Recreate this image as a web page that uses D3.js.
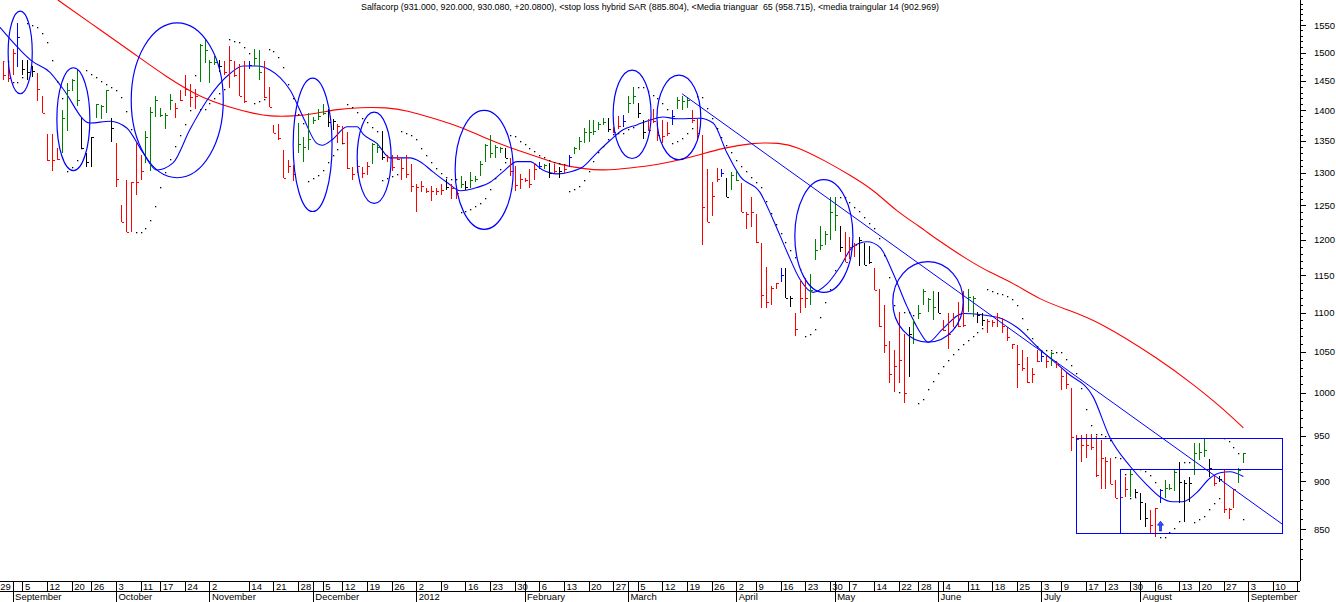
<!DOCTYPE html>
<html>
<head>
<meta charset="utf-8">
<script src="https://cdn.jsdelivr.net/npm/d3@7"></script>
<style>
  body { margin: 0; background: #fff; }
  svg { display: block; font-family: "Liberation Sans", Arial, sans-serif; }
</style>
</head>
<body>
<svg id="chart" width="1336" height="602"></svg>
<script>
// daily bars, first one is 30 Aug 2011 (trading day 1), last one 31 Aug 2012
const hi = [
  1485,1485,1507,1554,1487,1487,1476,1463,1425,1361,
  1361,1338,1400,1446,1454,1469,1387,1331,1356,1410,
  1409,1435,1387,1347,1250,1289,1286,1347,1328,1366,
  1405,1425,1404,1396,1428,1413,1434,1460,1444,1437,
  1516,1525,1487,1494,1487,1485,1512,1485,1480,1485,
  1485,1507,1505,1485,1440,1376,1378,1336,1320,1312,
  1379,1356,1395,1389,1402,1410,1402,1385,1378,1374,
  1364,1309,1320,1309,1317,1347,1347,1366,1327,1327,
  1328,1322,1328,1313,1283,1287,1277,1280,1277,1283,
  1290,1283,1277,1295,1287,1301,1295,1318,1345,1360,
  1343,1341,1339,1323,1310,1298,1292,1306,1315,1317,
  1313,1315,1313,1309,1312,1328,1341,1356,1371,1384,
  1384,1381,1387,1387,1373,1390,1392,1425,1440,1413,
  1384,1385,1402,1380,1384,1381,1400,1422,1425,1422,
  1400,1385,1360,1306,1286,1307,1306,1292,1301,1302,
  1284,1240,1263,1238,1196,1162,1135,1140,1160,1160,
  1122,1099,1144,1146,1152,1201,1220,1213,1262,1263,
  1220,1211,1204,1196,1204,1196,1191,1160,1131,1110,
  1064,1052,1101,1073,1081,1092,1110,1131,1120,1129,
  1127,1091,1099,1099,1114,1129,1131,1122,1101,1099,
  1092,1091,1099,1093,1081,1060,1059,1052,1043,1030,
  1052,1052,1045,1050,1038,1030,1024,1006,951,951,
  952,952,950,945,926,925,901,892,904,913,
  891,887,877,869,872,892,901,897,913,921,
  901,904,942,942,947,924,906,905,912,872,
  892,914,931
];
const lo = [
  1451,1448,1460,1474,1460,1451,1456,1415,1395,1318,
  1303,1319,1330,1366,1432,1407,1339,1309,1309,1387,
  1385,1395,1348,1278,1225,1211,1211,1266,1289,1315,
  1303,1389,1389,1370,1400,1387,1415,1425,1405,1402,
  1448,1481,1446,1478,1465,1460,1438,1456,1425,1412,
  1471,1476,1451,1420,1405,1363,1352,1291,1300,1287,
  1331,1317,1336,1378,1384,1393,1373,1368,1347,1347,
  1306,1289,1300,1291,1296,1313,1331,1319,1317,1303,
  1320,1289,1291,1270,1240,1270,1268,1256,1266,1266,
  1274,1259,1259,1276,1274,1277,1285,1295,1317,1323,
  1323,1331,1322,1295,1272,1275,1285,1277,1289,1306,
  1306,1292,1300,1292,1300,1309,1329,1336,1347,1349,
  1360,1368,1376,1365,1363,1370,1373,1395,1410,1387,
  1353,1366,1379,1350,1347,1358,1376,1402,1400,1404,
  1379,1352,1192,1225,1234,1286,1293,1263,1274,1287,
  1240,1216,1219,1196,1106,1106,1110,1132,1141,1119,
  1108,1070,1099,1106,1110,1172,1186,1192,1200,1212,
  1182,1168,1173,1176,1163,1165,1166,1130,1082,1049,
  1012,1001,1012,988,1019,1060,1092,1110,1101,1090,
  1099,1076,1053,1082,1082,1082,1101,1094,1087,1083,
  1074,1081,1082,1074,1063,1053,1005,1026,1011,1012,
  1037,1037,1030,1032,1030,1003,1004,933,915,921,
  925,934,904,892,892,897,882,883,883,883,
  883,859,852,845,842,877,882,890,889,877,
  857,878,907,923,926,904,895,899,866,860,
  872,898,920
];
const cl = [
  1460,1455,1500,1528,1470,1465,1468,1436,1395,1320,
  1320,1321,1387,1434,1451,1417,1339,1317,1356,1410,
  1407,1435,1371,1290,1225,1211,1286,1286,1303,1356,
  1397,1417,1392,1392,1417,1404,1417,1436,1422,1425,
  1514,1505,1484,1484,1476,1465,1487,1460,1425,1415,
  1478,1490,1465,1422,1405,1363,1354,1292,1310,1297,
  1345,1341,1353,1384,1391,1395,1380,1383,1375,1347,
  1307,1298,1310,1300,1310,1345,1340,1325,1325,1309,
  1321,1307,1297,1280,1278,1280,1271,1271,1272,1274,
  1278,1277,1268,1283,1278,1288,1290,1313,1343,1330,
  1340,1338,1322,1303,1281,1290,1289,1282,1306,1310,
  1312,1300,1303,1303,1306,1325,1338,1350,1365,1365,
  1366,1378,1380,1370,1365,1375,1382,1413,1424,1396,
  1365,1368,1383,1360,1358,1363,1391,1417,1415,1417,
  1384,1362,1248,1225,1264,1290,1300,1263,1296,1288,
  1241,1237,1241,1197,1123,1114,1133,1140,1150,1120,
  1119,1079,1120,1120,1130,1185,1193,1208,1241,1236,
  1189,1168,1190,1193,1199,1165,1168,1130,1083,1058,
  1022,1032,1040,1000,1073,1087,1100,1129,1118,1108,
  1100,1077,1073,1082,1083,1084,1121,1119,1097,1090,
  1089,1088,1094,1083,1069,1060,1035,1030,1013,1023,
  1038,1045,1038,1048,1035,1020,1010,949,946,940,
  939,937,907,925,922,897,882,883,891,908,
  888,878,861,854,872,890,893,893,910,899,
  898,898,931,932,934,914,898,902,871,870,
  891,912,930.08
];
// bar state from the charting program: 1 up, -1 down, 0 neutral, 2 signal
const barState = [
  -1,-1,-1,2,0,0,0,-1,-1,-1,
  -1,-1,1,1,1,1,0,0,0,1,
  1,1,0,-1,-1,-1,-1,-1,-1,1,
  1,1,1,1,1,-1,-1,-1,-1,-1,
  1,1,1,1,0,-1,-1,-1,-1,-1,
  2,1,1,-1,-1,-1,-1,-1,-1,-1,
  1,1,1,1,1,1,0,0,-1,-1,
  -1,-1,-1,-1,-1,1,1,0,-1,-1,
  -1,-1,-1,-1,-1,-1,-1,-1,-1,-1,
  0,-1,-1,1,0,1,1,1,1,1,
  1,1,0,-1,-1,-1,-1,-1,-1,2,
  1,0,-1,0,-1,2,1,1,1,1,
  1,1,1,0,-1,-1,2,1,1,0,
  0,-1,-1,-1,-1,-1,2,1,1,1,
  -1,-1,-1,-1,-1,-1,2,0,1,1,
  -1,-1,-1,-1,-1,-1,-1,-1,2,0,
  0,-1,-1,-1,1,1,1,1,1,1,
  0,-1,-1,-1,0,0,0,-1,-1,-1,
  -1,-1,-1,-1,0,1,1,1,1,1,
  0,-1,-1,-1,-1,-1,1,1,0,0,
  -1,-1,-1,-1,-1,-1,-1,-1,-1,-1,
  -1,2,-1,1,-1,-1,-1,-1,-1,-1,
  -1,-1,-1,-1,-1,-1,-1,-1,-1,1,
  0,0,0,-1,-1,2,1,1,1,0,
  0,0,1,1,1,0,-1,0,-1,-1,
  -1,1,1
];

// triangular averages (trading day, value)
const slowDay = [12.2,20.8,27.5,34.4,41.1,47.2,51.8,55.3,59.9,64.8,68.9,73.6,79,83.1,88.4,93.9,98.6,104,109.5,114.2,118.9,122.9,128.4,133.9,140.6,147.3,153.4,158.9,162.3,168.4,173.1,177.8,182.6,187.3,190.8,196.9,201.5,206.2,211.7,217.2,223.9,236.1,242.8,248.3,253];
const slowVal = [1597,1541,1499,1456,1422,1405,1395,1390,1390,1395,1402,1405,1405,1400,1387,1373,1356,1339,1325,1312,1306,1303,1307,1312,1323,1339,1347,1347,1341,1317,1296,1274,1241,1219,1200,1172,1154,1140,1117,1104,1088,1040,1010,984,959];
const fastDay = [0.4,4.5,6.9,10.6,13.2,18.7,22.8,26.2,29.5,32.3,35.6,39,42.5,47.2,49.8,52.7,55.3,57.3,59.4,62,64.8,65.9,68.1,70.9,73,74.2,77,79.7,83.7,85.8,88.4,91.2,94,97.3,100,102.6,105.5,108.1,110.7,113.6,116.2,118.9,121.7,124.4,127,129.8,132.5,135.1,138,142.6,145.3,148.1,150.8,154.8,157.5,160.3,163,165.6,168.4,171.1,173.7,176.6,179.2,181.8,184.7,187.3,189,191.8,196.1,203,207,211.7,217.2,222.5,225.9,230,233.4,236.1,238.7,240.7,243.6,246.2,248.3,250.3,253];
const fastVal = [1546,1505,1485,1465,1437,1379,1382,1371,1331,1304,1315,1368,1417,1463,1476,1476,1469,1456,1434,1389,1346,1343,1353,1373,1373,1361,1346,1323,1323,1317,1301,1285,1272,1277,1285,1301,1317,1317,1304,1298,1301,1309,1331,1351,1368,1376,1384,1389,1386,1387,1379,1331,1294,1270,1229,1183,1144,1127,1138,1162,1190,1197,1189,1154,1108,1075,1062,1078,1099,1094,1081,1053,1024,995,948,916,896,883,878,878,888,903,909,910,905];

// hand drawn marks: circles (day range, price range), trend line, boxes, arrow
const ringFrom = [2.1, 12.0, 27.1, 60.0, 73.0, 92.9, 125.0, 133.9, 161.9, 181.8];
const ringTo   = [7.0, 18.7, 45.8, 67.9, 79.9, 104.7, 132.7, 142.8, 173.7, 196.1];
const ringHigh = [1576, 1473, 1554, 1455, 1397, 1400, 1469, 1460, 1289, 1169];
const ringLow  = [1428, 1303, 1292, 1241, 1253, 1215, 1322, 1320, 1127, 1062];
const trendDay = [139, 260.9];
const trendVal = [1428, 855];
const boxFrom = [219.0, 227.9];
const boxTo = [260.9, 260.9];
const boxHigh = [947, 913];
const boxLow = [846, 846];
const arrowDay = 236, arrowTip = 858, arrowBase = 848;

const holidays = ["2011-09-19","2011-10-10","2011-10-31","2011-11-01","2011-12-08",
  "2012-04-06","2012-05-01","2012-05-21","2012-07-02","2012-07-16","2012-08-15",
  "2012-09-17","2012-09-18","2012-09-19"];
const monthNames = ["January","February","March","April","May","June","July",
  "August","September","October","November","December"];
const titleText = "Salfacorp (931.000, 920.000, 930.080, +20.0800), <stop loss hybrid SAR (885.804), <Media trianguar  65 (958.715), <media traingular 14 (902.969)";

// trading calendar
const fmt = d3.timeFormat("%Y-%m-%d");
const days = [];
for (let d = new Date(2011, 7, 29); d <= new Date(2012, 8, 28); d.setDate(d.getDate() + 1)) {
  const wd = d.getDay();
  if (wd === 0 || wd === 6) continue;
  if (holidays.includes(fmt(d))) continue;
  days.push(new Date(d));
}

const plotRight = 1300, axisTop = 581;
const x = d3.scaleLinear().domain([0, 253]).range([-2.2, 1243.3]);
const y = d3.scaleLog().domain([850, 1550]).range([529, 25]);

const svg = d3.select("#chart");
svg.append("rect").attr("width", 1336).attr("height", 602).attr("fill", "#fff");

svg.append("clipPath").attr("id", "plot")
  .append("rect").attr("x", 0).attr("y", 0).attr("width", plotRight).attr("height", axisTop);
svg.append("clipPath").attr("id", "xaxis")
  .append("rect").attr("x", 0).attr("y", axisTop).attr("width", plotRight).attr("height", 30);

const plot = svg.append("g").attr("clip-path", "url(#plot)");

//averages
const pts = (ds, vs) => ds.map((d, i) => [d, vs[i]]);
plot.append("path")
  .datum(pts(slowDay, slowVal))
  .attr("d", d3.line().x(d => x(d[0])).y(d => y(d[1])).curve(d3.curveBasis))
  .attr("fill", "none").attr("stroke", "#ff0000").attr("stroke-width", 1.1);
plot.append("path")
  .datum(pts(fastDay, fastVal))
  .attr("d", d3.line().x(d => x(d[0])).y(d => y(d[1])).curve(d3.curveMonotoneX))
  .attr("fill", "none").attr("stroke", "#0000ff").attr("stroke-width", 1.1);

// stop and reverse dots from the bars (fast acceleration)
function sarSeries(h, l, step, maxAf) {
  const out = [];
  let up = false, af = step, ep = l[0], sar = h[0];
  out.push(sar);
  for (let k = 1; k < h.length; k++) {
    sar = sar + af * (ep - sar);
    if (up) {
      sar = Math.min(sar, l[k - 1], l[Math.max(k - 2, 0)]);
      if (l[k] < sar) { up = false; sar = ep; ep = l[k]; af = step; }
      else if (h[k] > ep) { ep = h[k]; af = Math.min(af + step, maxAf); }
    } else {
      sar = Math.max(sar, h[k - 1], h[Math.max(k - 2, 0)]);
      if (h[k] > sar) { up = true; sar = ep; ep = h[k]; af = step; }
      else if (l[k] < ep) { ep = l[k]; af = Math.min(af + step, maxAf); }
    }
    out.push(sar);
  }
  return out;
}
const sar = sarSeries(hi, lo, 0.04, 0.4);

plot.append("g").selectAll("rect")
  .data(sar)
  .join("rect")
  .attr("x", (d, k) => Math.round(x(k + 1)))
  .attr("y", d => Math.round(y(d)))
  .attr("width", 1.3).attr("height", 1.3)
  .attr("fill", "#000");

// bars
const stateColor = s => s === 1 ? "#008000" : s === -1 ? "#ff0000" : s === 2 ? "#0000ff" : "#000000";
const bars = plot.append("g").attr("shape-rendering", "crispEdges")
  .selectAll("g")
  .data(hi.map((h, k) => ({ day: k + 1, h, l: lo[k], c: cl[k], s: barState[k] })))
  .join("g")
  .attr("stroke", d => stateColor(d.s));
bars.append("line")
  .attr("x1", d => Math.round(x(d.day)) + 0.5).attr("x2", d => Math.round(x(d.day)) + 0.5)
  .attr("y1", d => y(d.h)).attr("y2", d => y(d.l));
bars.append("line")
  .attr("x1", d => Math.round(x(d.day)) + 0.5).attr("x2", d => Math.round(x(d.day)) + 3)
  .attr("y1", d => Math.round(y(d.c)) + 0.5).attr("y2", d => Math.round(y(d.c)) + 0.5);

// annotations
const notes = plot.append("g").attr("fill", "none").attr("stroke", "#0000ff").attr("stroke-width", 1.2);
notes.selectAll("ellipse")
  .data(ringFrom.map((f, i) => ({ f, t: ringTo[i], h: ringHigh[i], l: ringLow[i] })))
  .join("ellipse")
  .attr("cx", d => (x(d.f) + x(d.t)) / 2)
  .attr("cy", d => (y(d.h) + y(d.l)) / 2)
  .attr("rx", d => (x(d.t) - x(d.f)) / 2)
  .attr("ry", d => (y(d.l) - y(d.h)) / 2);
notes.append("line")
  .attr("x1", x(trendDay[0])).attr("y1", y(trendVal[0]))
  .attr("x2", x(trendDay[1])).attr("y2", y(trendVal[1]))
  .attr("stroke-width", 1);
notes.selectAll("rect")
  .data(boxFrom.map((f, i) => ({ f, t: boxTo[i], h: boxHigh[i], l: boxLow[i] })))
  .join("rect")
  .attr("shape-rendering", "crispEdges")
  .attr("x", d => Math.round(x(d.f)) + 0.5)
  .attr("y", d => Math.round(y(d.h)) + 0.5)
  .attr("width", d => Math.round(x(d.t)) - Math.round(x(d.f)))
  .attr("height", d => Math.round(y(d.l)) - Math.round(y(d.h)))
  .attr("stroke-width", 1.3);
const ax = Math.round(x(arrowDay)) + 0.5, at = y(arrowTip), ab = y(arrowBase);
plot.append("path")
  .attr("d", `M${ax},${at} L${ax - 3},${at + 4} L${ax - 1},${at + 4} L${ax - 1},${ab} L${ax + 1},${ab} L${ax + 1},${at + 4} L${ax + 3},${at + 4} Z`)
  .attr("fill", "#2255ff").attr("stroke", "#0000cc").attr("stroke-width", 0.6);

// right price axis
const yAxis = svg.append("g").attr("shape-rendering", "crispEdges");
yAxis.append("line").attr("x1", plotRight + 0.5).attr("x2", plotRight + 0.5)
  .attr("y1", 0).attr("y2", axisTop).attr("stroke", "#000");
const tickVals = d3.range(820, 1600, 10).filter(v => y(v) >= 0 && y(v) <= axisTop - 2);
yAxis.selectAll("line.t")
  .data(tickVals)
  .join("line").attr("class", "t")
  .attr("x1", plotRight).attr("x2", v => plotRight + (v % 50 === 0 ? 6 : 3))
  .attr("y1", v => Math.round(y(v)) + 0.5).attr("y2", v => Math.round(y(v)) + 0.5)
  .attr("stroke", "#000");
yAxis.selectAll("text")
  .data(tickVals.filter(v => v % 50 === 0 && v >= 850 && v <= 1550))
  .join("text")
  .attr("x", 1314).attr("y", v => y(v) + 3.5)
  .attr("font-size", 9.5).attr("fill", "#000")
  .text(v => v);

// date axis
const xAxis = svg.append("g").attr("clip-path", "url(#xaxis)");
xAxis.append("g").attr("shape-rendering", "crispEdges").attr("stroke", "#000")
  .selectAll("line")
  .data([axisTop + 0.5, axisTop + 10.5])
  .join("line")
  .attr("x1", 0).attr("x2", plotRight + 1).attr("y1", d => d).attr("y2", d => d);

const weekTicks = [], monthTicks = [];
let lastTick = -10;
days.forEach((d, i) => {
  const prev = days[i - 1];
  if (!prev || d3.timeMonday.floor(d) > prev) {
    if (i - lastTick >= 4) { weekTicks.push(i); lastTick = i; }
  }
  if (prev && prev.getMonth() !== d.getMonth()) monthTicks.push(i);
});

xAxis.append("g").attr("shape-rendering", "crispEdges").attr("stroke", "#000")
  .selectAll("line")
  .data(weekTicks)
  .join("line")
  .attr("x1", i => Math.round(x(i)) + 0.5).attr("x2", i => Math.round(x(i)) + 0.5)
  .attr("y1", axisTop).attr("y2", axisTop + 11);
xAxis.append("g").selectAll("text")
  .data(weekTicks)
  .join("text")
  .attr("x", i => x(i) + 2.5).attr("y", axisTop + 8.5)
  .attr("font-size", 9.5).attr("fill", "#000")
  .text(i => days[i].getDate());

xAxis.append("g").attr("shape-rendering", "crispEdges").attr("stroke", "#000")
  .selectAll("line")
  .data(monthTicks)
  .join("line")
  .attr("x1", i => Math.round(x(i)) + 0.5).attr("x2", i => Math.round(x(i)) + 0.5)
  .attr("y1", axisTop).attr("y2", 602);
xAxis.append("g").selectAll("text")
  .data(monthTicks)
  .join("text")
  .attr("x", i => x(i) + 2.5).attr("y", 600)
  .attr("font-size", 9.5).attr("fill", "#000")
  .text(i => days[i].getMonth() === 0 ? days[i].getFullYear() : monthNames[days[i].getMonth()]);

// title
svg.append("text")
  .attr("x", 361).attr("y", 9.5)
  .attr("font-size", 9.5).attr("fill", "#000")
  .attr("textLength", 578).attr("lengthAdjust", "spacingAndGlyphs")
  .style("white-space", "pre")
  .text(titleText);
</script>
</body>
</html>
